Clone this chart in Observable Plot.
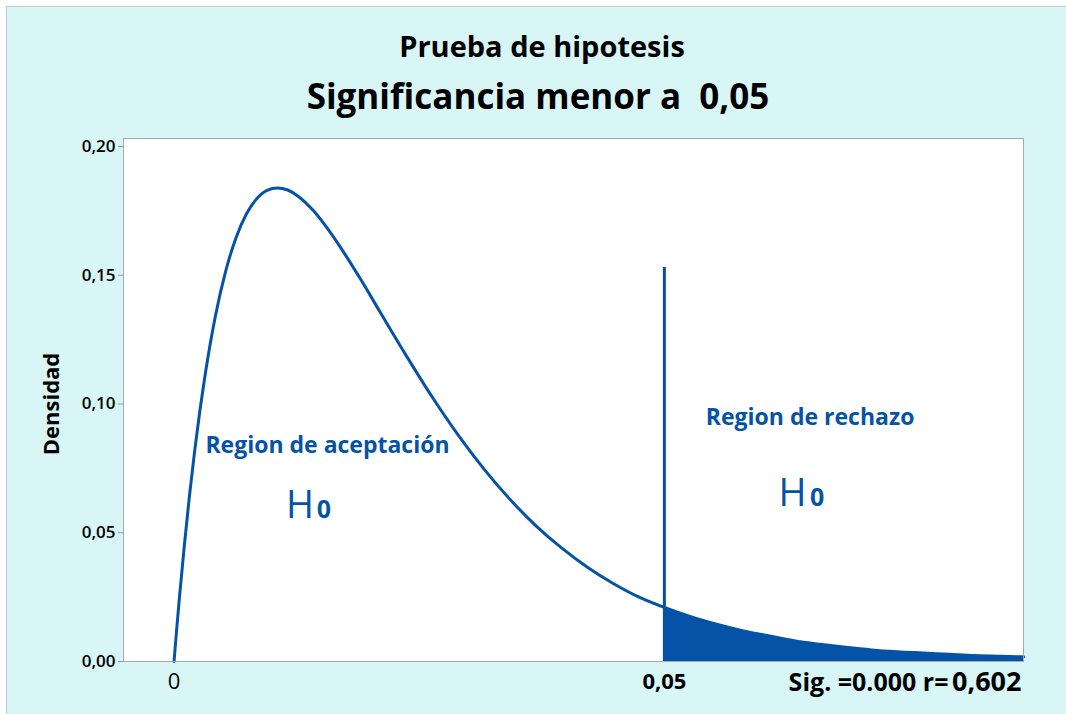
<!DOCTYPE html>
<html><head><meta charset="utf-8">
<script src="https://cdn.jsdelivr.net/npm/d3@7"></script>
<script src="https://cdn.jsdelivr.net/npm/@observablehq/plot@0.6"></script>
<style>
body{margin:0;background:#fff;font-family:"Open Sans",sans-serif;}
#wrap{position:relative;width:1066px;height:714px;overflow:hidden;}
#bg{position:absolute;left:6px;top:6px;right:0;bottom:0;background:#d9f6f6;border-left:1px solid #c8c8c8;border-top:1px solid #c8c8c8;}
.t{position:absolute;left:0;width:1084px;text-align:center;line-height:1;color:#000;font-weight:700;white-space:pre;}
#title{top:31px;font-size:29px;}
#subtitle{top:78px;font-size:35px;width:1076px;}
#chart{position:absolute;left:0;top:0;}
</style></head><body>
<div id="wrap"><div id="bg"></div>
<div id="title" class="t">Prueba de hipotesis</div>
<div id="subtitle" class="t">Significancia menor a  0,05</div>
<div id="chart"></div></div>
<script>
// curve (x in the chart's horizontal units, density on y)
const xVals = [0, 0.05, 0.1, 0.2, 0.3, 0.4, 0.5, 0.6, 0.8, 1.0, 1.2, 1.4, 1.6, 1.8, 2.0, 2.2, 2.4, 2.7, 3.0, 3.3, 3.6, 4.0, 4.5, 5.0, 5.5, 6.0, 6.5, 7.0, 7.5, 8.0, 8.5, 9.0, 9.49, 10.0, 10.5, 11.0, 11.5, 12.0, 12.5, 13.0, 13.5, 14.0, 14.5, 15.0, 15.5, 16.0, 16.44];
const density = [0, 0.0122, 0.0238, 0.0452, 0.0646, 0.0819, 0.0974, 0.1111, 0.1341, 0.1516, 0.1646, 0.1738, 0.1797, 0.1830, 0.1839, 0.1831, 0.1807, 0.1750, 0.1673, 0.1584, 0.1488, 0.1353, 0.1186, 0.1026, 0.0879, 0.0747, 0.0630, 0.0528, 0.0441, 0.0366, 0.0303, 0.0250, 0.0210, 0.0174, 0.0145, 0.0120, 0.0100, 0.0081, 0.0067, 0.0055, 0.0045, 0.0038, 0.0033, 0.0028, 0.0023, 0.0020, 0.0018];
const critical = 9.49;
const criticalTop = 0.153;
const xDomain = [-0.978, 16.44];
const yDomain = [0, 0.2031];
const yTicks = [0, 0.05, 0.10, 0.15, 0.20];
const xTicks = [0, critical];
const xTickLabels = ["0", "0,05"];
const regionLabels = ["Region de aceptación", "Region de rechazo"];
const regionX = [2.97, 12.31];
const regionY = [0.0811, 0.0920];
const hX = [2.71, 12.24];
const zeroX = [2.76, 12.31];
const hY = [0.0558, 0.0602];
const sigText = "Sig. =0.000 r=";
const rText = "0,602";
const yLabel = "Densidad";

const blue = "#0553a6";
const curve = xVals.map((x, i) => ({x, y: density[i]}));
const tail = curve.filter(d => d.x >= critical);
const regions = regionLabels.map((t, i) => ({t, x: regionX[i], y: regionY[i]}));
const hs = hX.map((x, i) => ({x, x0: zeroX[i], y: hY[i]}));

const chart = Plot.plot({
  width: 1066, height: 714,
  marginLeft: 123, marginTop: 138, marginRight: 43, marginBottom: 53,
  style: {background: "transparent", fontFamily: "'Open Sans', sans-serif", overflow: "visible"},
  x: {domain: xDomain},
  y: {domain: yDomain},
  marks: [
    Plot.frame({fill: "white", stroke: "none"}),
    Plot.areaY(tail, {x: "x", y: "y", fill: blue, curve: "monotone-x"}),
    Plot.line(curve, {x: "x", y: "y", stroke: blue, strokeWidth: 3, curve: "monotone-x"}),
    Plot.ruleX([critical], {y1: 0, y2: criticalTop, stroke: blue, strokeWidth: 3}),
    Plot.frame({stroke: "#a8a8a8", fill: "none"}),
    Plot.axisY({ticks: yTicks, tickFormat: d => d3.format(".2f")(d).replace(".", ","), tickSize: 5, tickPadding: 3, fontSize: 17, fontWeight: 600, stroke: "#999", fill: "black", label: null}),
    Plot.axisX([xTicks[0]], {tickSize: 0, tickPadding: 12, fontSize: 22, fontWeight: 400, fill: "black", tickFormat: () => xTickLabels[0], label: null}),
    Plot.axisX([xTicks[1]], {tickSize: 0, tickPadding: 12, fontSize: 22, fontWeight: 700, fill: "black", tickFormat: () => xTickLabels[1], label: null}),
    Plot.text(regions, {x: "x", y: "y", text: "t", fill: blue, fontSize: 23, fontWeight: 700, lineAnchor: "bottom"}),
    Plot.text(hs, {x: "x", y: "y", text: () => "H", fill: blue, fontSize: 38, fontWeight: 400, textAnchor: "end", lineAnchor: "bottom"}),
    Plot.text(hs, {x: "x0", y: "y", text: () => "0", fill: blue, fontSize: 25, fontWeight: 700, textAnchor: "start", lineAnchor: "bottom"}),
    Plot.text([yLabel], {text: d => d, frameAnchor: "left", dx: -72, dy: 4, rotate: -90, textAnchor: "middle", fontSize: 22, fontWeight: 700, fill: "black"}),
    Plot.text([sigText], {text: d => d, frameAnchor: "bottom-right", dx: -75, dy: 29, textAnchor: "end", lineAnchor: "bottom", fontSize: 25, fontWeight: 700, fill: "black"}),
    Plot.text([rText], {text: d => d, frameAnchor: "bottom-right", dx: -2, dy: 29, textAnchor: "end", lineAnchor: "bottom", fontSize: 27, fontWeight: 700, fill: "black"})
  ]
});
document.getElementById("chart").appendChild(chart);
</script>
</body></html>
